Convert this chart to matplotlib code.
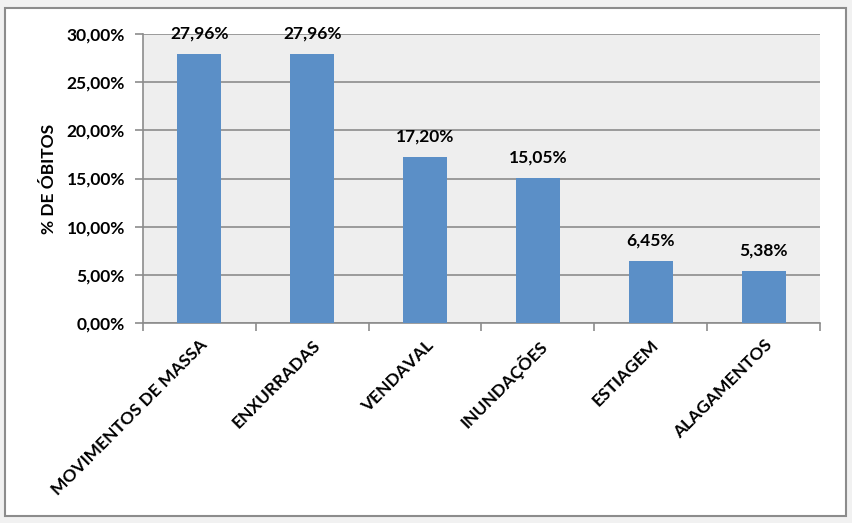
import matplotlib
matplotlib.use("Agg")
import matplotlib.pyplot as plt
from matplotlib.patches import Rectangle
from matplotlib.ticker import FuncFormatter, MultipleLocator

categories = ["MOVIMENTOS DE MASSA", "ENXURRADAS", "VENDAVAL", "INUNDAÇÕES", "ESTIAGEM", "ALAGAMENTOS"]
values = [27.96, 27.96, 17.20, 15.05, 6.45, 5.38]
y_label = "% DE ÓBITOS"

plt.rcParams['font.family'] = ['Lato', 'DejaVu Sans']
plt.rcParams['font.weight'] = 'bold'
plt.rcParams['axes.labelweight'] = 'bold'

FS = 12.5
W, H = 853, 523
fig = plt.figure(figsize=(W/100, H/100), dpi=100)
fig.patch.set_facecolor('#f1f1f1')
# white chart area with gray border
fig.patches.append(Rectangle((5/W, 1 - 516/H), (846-5)/W, (516-8)/H, transform=fig.transFigure,
                             facecolor='white', edgecolor='#8c8c8c', linewidth=1.5, zorder=-10))

ax = fig.add_axes([143/W, 1 - 323/H, (820-143)/W, (323-34)/H])
ax.set_zorder(5)
ax.set_facecolor('#eeeeee')
x = list(range(len(categories)))
ax.bar(x, values, width=0.39, color='#5b8fc7', zorder=3)
ax.set_xlim(-0.5, len(categories) - 0.5)
ax.set_ylim(0, 30)
ax.yaxis.set_major_locator(MultipleLocator(5))
ax.yaxis.set_major_formatter(FuncFormatter(lambda v, p: f"{v:.2f}%".replace('.', ',')))
ax.grid(axis='y', color='#8c8c8c', linewidth=1.2, zorder=1)
for s in ['top', 'right']:
    ax.spines[s].set_visible(False)
for s in ['left', 'bottom']:
    ax.spines[s].set_color('#8c8c8c')
    ax.spines[s].set_linewidth(1.2)
ax.tick_params(axis='y', length=6, color='#8c8c8c', width=1.2, labelsize=FS, pad=7)
ax.set_xticks([i - 0.5 for i in range(len(categories) + 1)], minor=False)
ax.set_xticklabels([])
ax.tick_params(axis='x', which='major', length=6, color='#8c8c8c', width=1.2)
ax.set_xticks(x, minor=True)
ax.set_xticklabels(categories, minor=True, rotation=45, ha='right', rotation_mode='anchor', fontsize=FS)
ax.tick_params(axis='x', which='minor', length=0, pad=10)
ax.set_ylabel(y_label, fontsize=FS, labelpad=7)

for i, v in enumerate(values):
    ax.annotate(f"{v:.2f}%".replace('.', ','), (i, v), xytext=(0, 9), textcoords='offset points',
                ha='center', va='bottom', fontsize=FS, fontweight='bold', zorder=4)

fig.savefig("out.png", dpi=100, facecolor=fig.get_facecolor())
